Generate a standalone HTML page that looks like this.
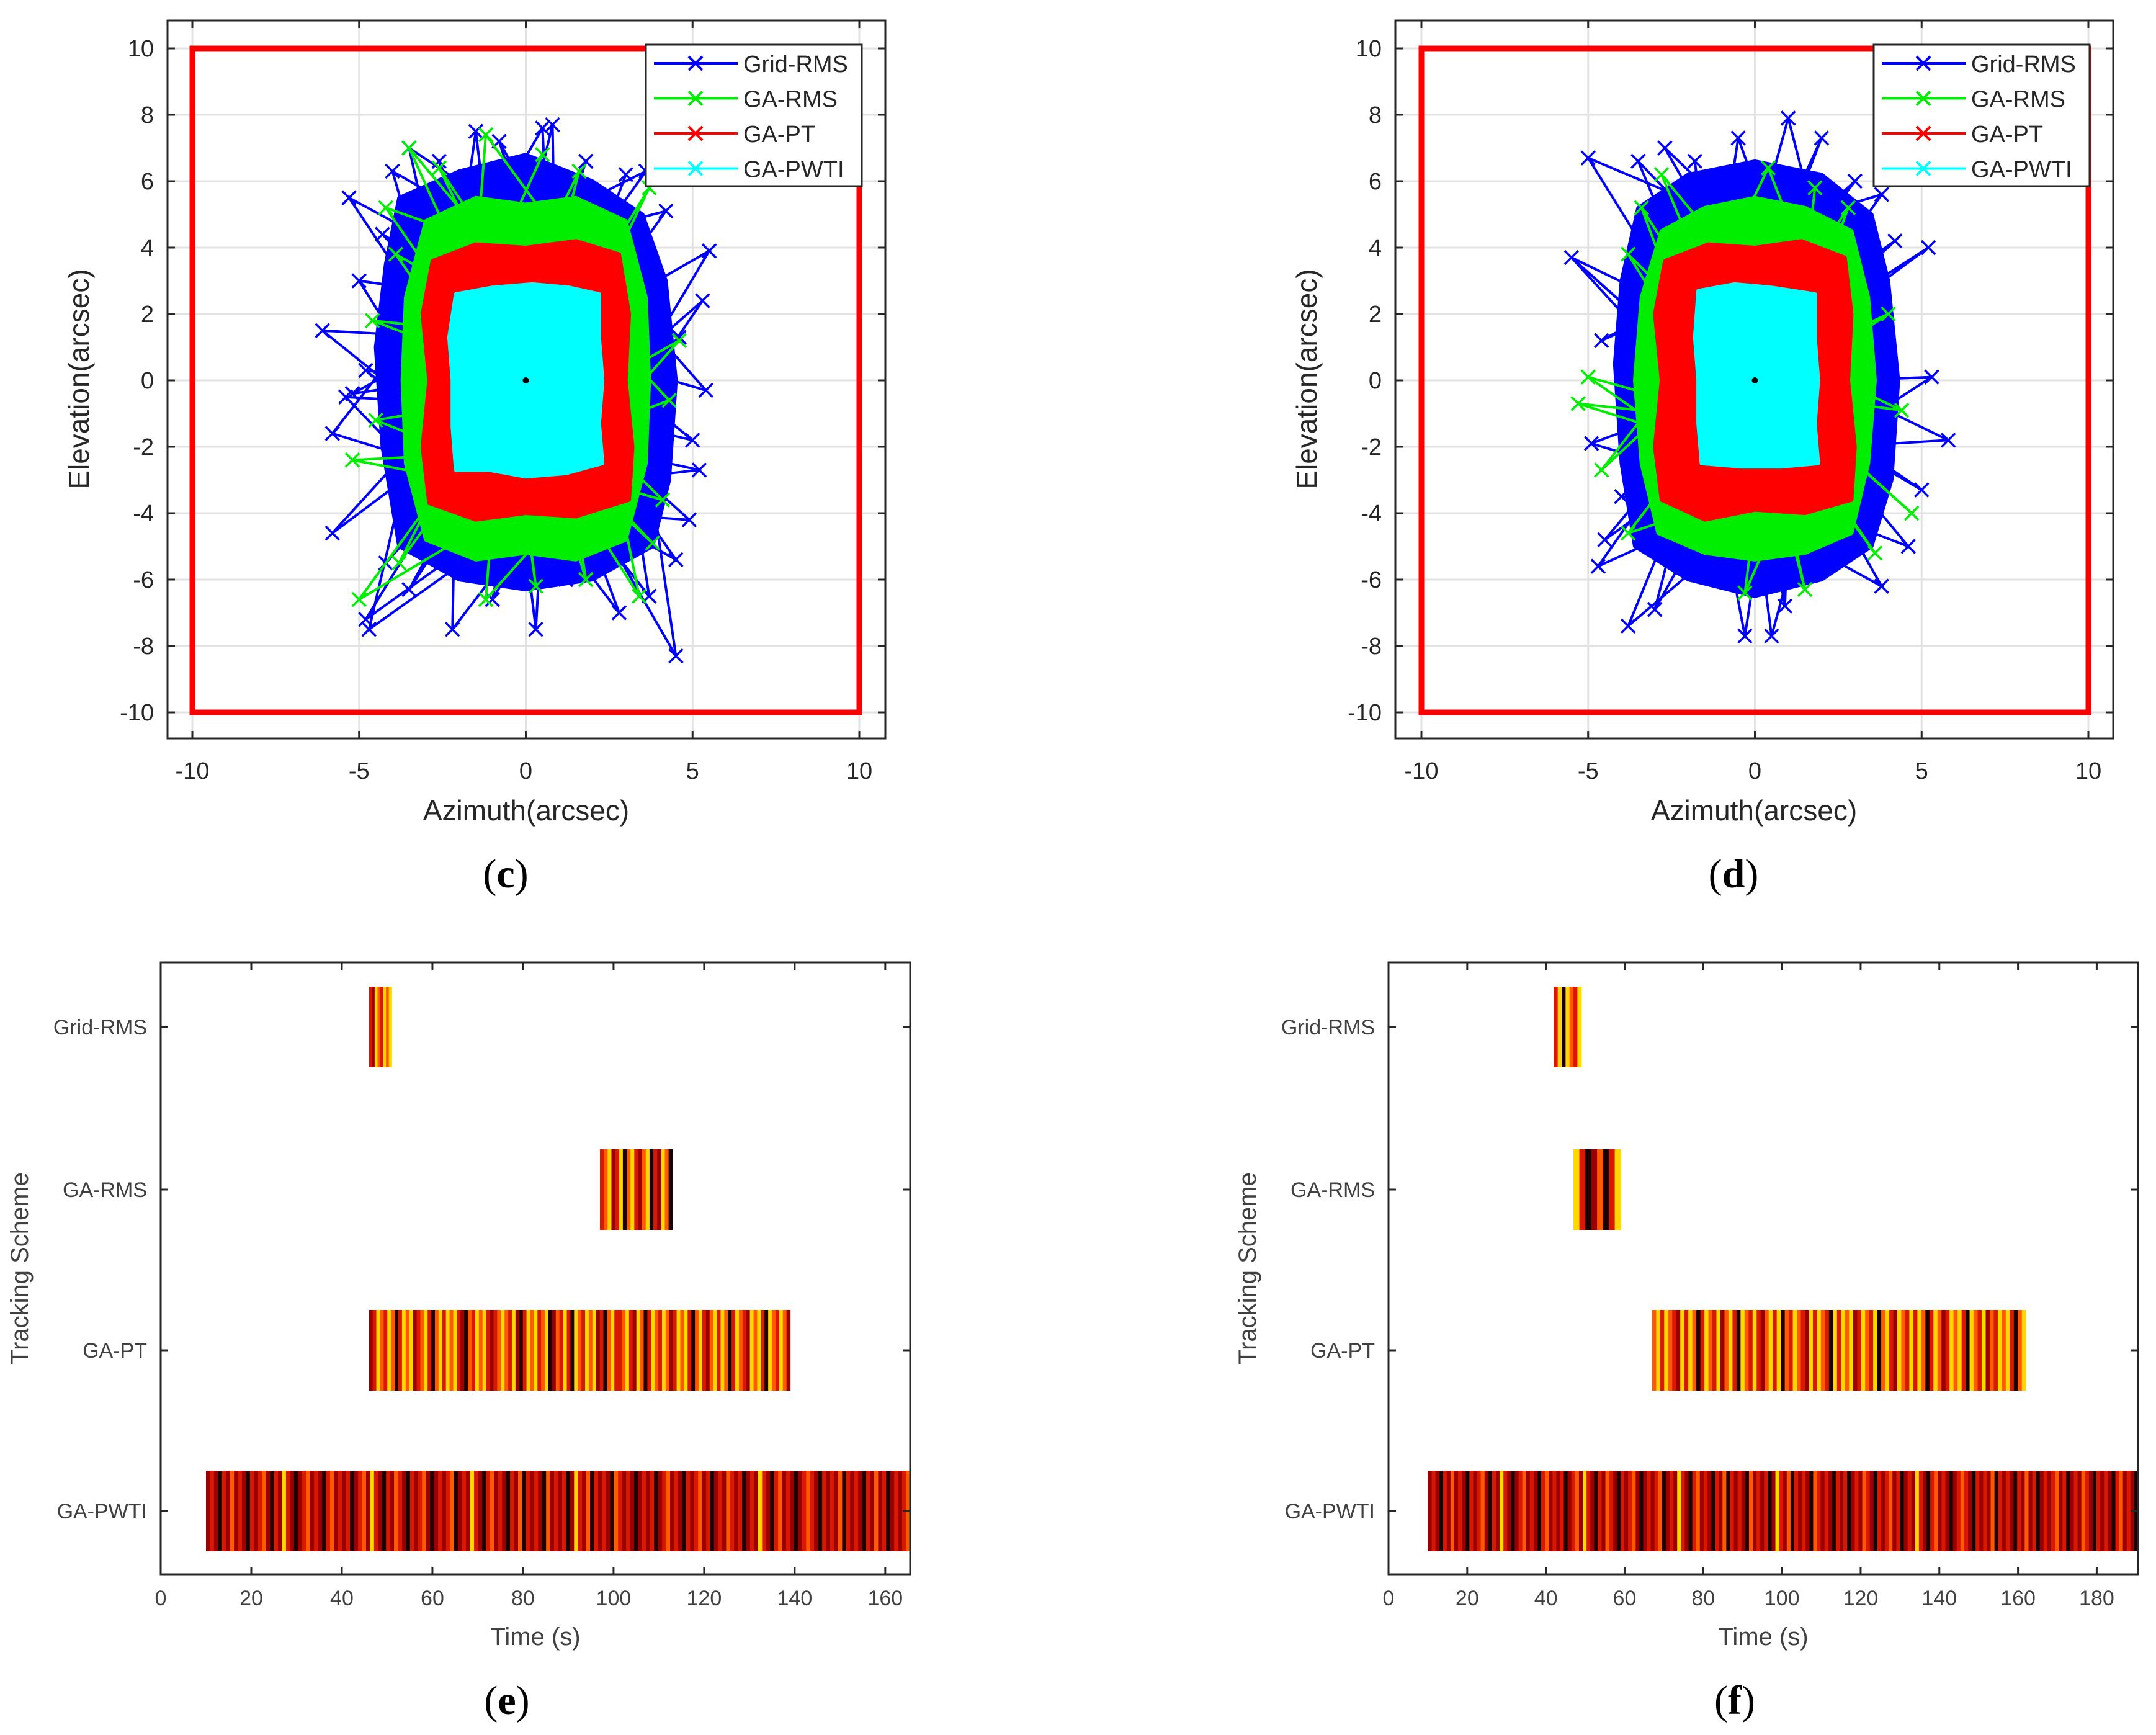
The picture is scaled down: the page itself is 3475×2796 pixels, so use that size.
<!DOCTYPE html>
<html><head><meta charset="utf-8"><style>
html,body{margin:0;padding:0;background:#fff;}
svg{display:block;font-family:"Liberation Sans",Arial,sans-serif;}
</style></head>
<body>
<svg id="root" width="3475" height="2796" viewBox="0 0 3475 2796" xmlns="http://www.w3.org/2000/svg">
<rect x="0" y="0" width="3475" height="2796" fill="#fff"/>
</svg>
<script>
// ---------- data: scatter panels ----------
const xTicks=[-10,-5,0,5,10];
const yTicks=[-10,-8,-6,-4,-2,0,2,4,6,8,10];
const seriesNames=["Grid-RMS","GA-RMS","GA-PT","GA-PWTI"];
const cBlue=[[-1,5],[0.5,7.6],[1,-3],[-4.8,-7.2],[2,4],[-5.8,-4.6],[3,2],[4.5,-8.3],[-2,3],[-2.2,-7.5],[2,-2],[5.5,3.9],[-3,-1],[-6.1,1.5],[3,1],[-5.3,5.5],[1,-4],[0.8,7.7],[-1.5,-2],[-3.5,7],[2.5,3],[5.4,-0.3],[-2.5,2],[-4.7,-7.5],[3,-2],[3.7,-6.5],[-3,2],[-5.8,-1.6],[2,-4],[4.5,-5.4],[-2,4],[-1.5,7.5],[0,-5],[0.3,-7.5],[1,5],[3.6,6.3],[-3,-3],[-5.4,-0.5],[3,-1],[5.3,2.4],[-2,-4],[-3.5,-6.3],[1.5,3],[-0.8,7.2],[2.5,-3],[5.2,-2.7],[-2.5,-1],[-5,3],[2,2],[4.2,5.1],[0,4],[-4,6.3],[-1,-4],[1.2,-6],[2,-4],[4.9,-4.2],[-3,3],[-4.3,4.4],[2.8,0],[5,-1.8],[-2.8,0],[-4.8,0.3],[0.5,-4],[-1,-6.6],[1,4],[1.8,6.6],[-2,-3],[-4.2,-5.5],[2.5,2],[4.6,1.3],[-1.5,3.5],[-2.6,6.6],[1.5,-3.5],[2.8,-7],[-2.5,0],[-5.2,-0.4],[2,3.5],[3,6.2]];
const cGreen=[[-1,4],[-3.5,7],[1,-3],[-5,-6.6],[2,3],[-1.2,7.4],[-2,-3],[-5.2,-2.4],[2.5,-2],[3.4,-6.5],[-2,2],[-4.2,5.2],[2,3],[3.7,5.8],[-1,-4],[-1.2,-6.6],[2,-3],[3.8,-4.9],[-2.5,1],[-4.6,1.8],[2.8,1],[4.3,-0.6],[-2,-3],[-3.8,-5.5],[1,4],[1.6,6.3],[-2.5,-2],[-4.5,-1.2],[2.5,0],[4.6,1.2],[0,-4],[0.3,-6.2],[-1,4],[-2.6,6.4],[2,-3],[4.1,-3.6],[-2.5,3],[-3.9,3.8],[1.5,-4],[1.8,-6],[-1,3.5],[0.5,6.8]];
const cBlueEnv=[[-3.8,5.5],[-2,6.3],[0,6.8],[2,6],[3.5,5],[4.2,3],[4.5,0],[4.3,-3],[3.8,-5],[2,-6],[0,-6.3],[-2,-6],[-3.8,-5],[-4.3,-2],[-4.5,1],[-4.2,3.5]];
const cGreenEnv=[[-3,4.8],[-1.5,5.5],[0,5.3],[1.5,5.5],[3,4.8],[3.6,2.5],[3.7,0],[3.6,-2.5],[3,-4.8],[1.5,-5.4],[0,-5.2],[-1.5,-5.4],[-3,-4.8],[-3.6,-2.5],[-3.7,0],[-3.6,2.5]];
const cRed=[[-2.8,3.6],[-1.5,4.1],[0,4],[1.5,4.2],[2.8,3.8],[3.1,2],[3,0],[3.2,-2],[3.1,-3.6],[1.5,-4.1],[0,-4],[-1.5,-4.2],[-2.9,-3.7],[-3.1,-2],[-2.9,0],[-3.1,2]];
const cCyan=[[-2.1,2.6],[-1,2.8],[0.2,2.9],[1.3,2.8],[2.2,2.6],[2.2,1.3],[2.3,0],[2.2,-1.3],[2.3,-2.5],[1.2,-2.8],[0,-2.9],[-1.1,-2.7],[-2.1,-2.7],[-2.2,-1.4],[-2.2,0],[-2.3,1.3]];
const dBlue=[[-1,5],[-5,6.7],[1,-3],[-4.7,-5.6],[2,4],[1,7.9],[-2,-3],[-3.8,-7.4],[2.5,-2],[5.8,-1.8],[-2,2],[-5.5,3.7],[1.5,-4],[0.5,-7.7],[-1,4],[-2.7,7],[2.5,2],[5.2,4],[-2.5,-1],[-4.9,-1.9],[2,-4],[4.6,-5],[-2,3],[-3.5,6.6],[2.8,0],[5.3,0.1],[-1,-4],[-0.3,-7.7],[1.5,4],[3,6],[-2.5,1],[-5.5,3.7],[2,-3],[3.8,-6.2],[-2,-3],[-3,-6.9],[2.5,3],[4.2,4.2],[-2.5,-2],[-4,-3.5],[1,-4],[0.9,-6.8],[-1,4],[-0.5,7.3],[2.8,-2],[5,-3.3],[-2.8,2],[-4.6,1.2],[0.5,4],[2,7.3],[-2,-3],[-4.5,-4.8],[2,3],[3.8,5.6],[-1.5,4],[-1.8,6.6]];
const dGreen=[[-1,4],[-2.8,6.2],[1,-3],[-3.8,-4.6],[2,3],[2.8,5.2],[-2,-2],[-5,0.1],[2.5,-2],[4.7,-4],[-2,2],[-3.8,3.8],[1,-4],[1.5,-6.3],[-1,3.5],[0.4,6.4],[2.5,1],[4,2],[-2.5,-1],[-5.3,-0.7],[2,-3],[3.6,-5.2],[-2,3],[-3.4,5.2],[0,-4],[-0.3,-6.4],[2.5,0],[4.4,-0.9],[-2.5,0],[-4.6,-2.7],[1.5,3],[1.8,5.8]];
const dBlueEnv=[[-3.5,5.2],[-2,6.2],[0,6.6],[2,6.2],[3.5,5],[4,3],[4.3,0],[4.1,-3],[3.5,-5],[2,-6],[0,-6.5],[-2,-6],[-3.6,-5],[-4,-2.5],[-4.2,0.5],[-4,3]];
const dGreenEnv=[[-2.8,4.5],[-1.5,5.2],[0,5.5],[1.5,5.2],[2.9,4.5],[3.4,2.5],[3.6,0],[3.4,-2.5],[2.9,-4.6],[1.5,-5.2],[0,-5.4],[-1.5,-5.2],[-2.9,-4.6],[-3.4,-2.5],[-3.6,0],[-3.4,2.5]];
const dRed=[[-2.7,3.6],[-1.4,4.1],[0,4],[1.4,4.2],[2.7,3.7],[2.9,2],[2.8,0],[3,-2],[2.9,-3.6],[1.5,-4],[0,-3.9],[-1.5,-4.2],[-2.8,-3.6],[-3,-2],[-2.8,0],[-3,2]];
const dCyan=[[-1.7,2.7],[-0.6,2.9],[0.5,2.8],[1.8,2.6],[1.8,1.3],[1.9,0],[1.8,-1.3],[1.9,-2.5],[0.8,-2.6],[-0.4,-2.6],[-1.6,-2.5],[-1.7,-1.3],[-1.7,0],[-1.8,1.3]];

// ---------- data: tracking scheme panels ----------
const rowLabels=["Grid-RMS","GA-RMS","GA-PT","GA-PWTI"];
const eTicks=[0,20,40,60,80,100,120,140,160];
const fTicks=[0,20,40,60,80,100,120,140,160,180];
const eStart=[46,97,46,10];
const eEnd=[51,113,139,165.5];
const fStart=[42,47,67,10];
const fEnd=[49,59,162,190.5];
// stripe colour codes: K black, D dark red, R red, O orange, Y yellow
const eStripes=["RDYORYOY","ROYDRYKOYRDOYKRDYOK","DRYORYOKRYOYDROYRKOYRYOYRDKORYOYRDROYORYDKRYOYROYKDORYRKYORYOYDRKOYRROYRDYOKRYORYODRYOYRKOYRDOYRYOKRYORDYOYRKYORYOD","DRDKRDODRDKRDRODKRDYRDKDRODRDKRODRDRKDRODYRDKRDORDKRDRODKDRDROKDRDYRDKRODRDKRDOKRDRDKODRDRKDYRDOKRDRDKORDRDKDRDRKDRODRDKRDRODRKDRDORDRKDRDYRDKRODRDKDRORDKRDRDOKRDRDKRDODRKDRDRO"];
const fStripes=["RYKYORY","YRKDOKRY","OYRYORDYRYOKRYORYDOYRKYORYRDOYRYKORYORDYRYORKYRYOYDRYORYKOYRDYORYRYOKRYODRYOYRKYORYDORYOYRKOY","DRDKRDODRDKRDRODKRDYRDKDRODRDKRODRDRKDRODYRDKRDORDKRDRODKDRDROKDRDYRDKRODRDKRDOKRDRDKODRDRKDYRDOKRDRDKORDRDKRDRKDRDORDKRDRODRKDRDYRDKRODRDKDRORDKRDRDOKRDRDKRDODRKDRDRODRKDRDORDKRDRDKRODRDK"];
const stripeColors={K:"#1a0000",D:"#9a0000",R:"#d81800",O:"#ff5a00",Y:"#ffd800"};
const seriesColors=["#0000ff","#00ee00","#ff0000","#00ffff"];

const NS="http://www.w3.org/2000/svg";
const root=document.getElementById("root");
function mk(tag,attrs,parent){const e=document.createElementNS(NS,tag);for(const k in attrs)e.setAttribute(k,attrs[k]);(parent||root).appendChild(e);return e;}

function scatterPanel(p){
  const g=mk("g",{});
  
  
  const X=v=>p.x0+(v+10)*53.75, Y=v=>613-v*53.5;
  const pts=a=>a.map(q=>X(q[0])+","+Y(q[1])).join(" ");
  mk("rect",{x:p.bx,y:33,width:1157,height:1157,fill:"#fff"},g);
  xTicks.forEach(t=>{const l=mk("line",{x1:X(t),x2:X(t),y1:33,y2:1190,stroke:"#e2e2e2","stroke-width":3},g);
    });
  yTicks.forEach(t=>{const l=mk("line",{x1:p.bx,x2:p.bx+1157,y1:Y(t),y2:Y(t),stroke:"#e2e2e2","stroke-width":3},g);
    });
  const env=(a,col,name)=>{const e=mk("polygon",{points:pts(a),fill:col,stroke:col,"stroke-width":6,"stroke-linejoin":"round"},g);
    };
  const line=(a,col,name)=>{
    const pl=mk("polyline",{points:pts(a),fill:"none",stroke:col,"stroke-width":4,"stroke-linejoin":"round"},g);
    
    let d="";a.forEach(q=>{const x=X(q[0]),y=Y(q[1]);d+=`M${x-11},${y-11}L${x+11},${y+11}M${x-11},${y+11}L${x+11},${y-11}`;});
    const m=mk("path",{d:d,stroke:col,"stroke-width":3.5,fill:"none"},g);
    
  };
  env(p.blueEnv,seriesColors[0],"grid-rms-dense-region");
  line(p.blue,seriesColors[0],"grid-rms-trace");
  env(p.greenEnv,seriesColors[1],"ga-rms-dense-region");
  line(p.green,seriesColors[1],"ga-rms-trace");
  env(p.red,"#ff0000","ga-pt-trace");
  env(p.cyan,"#00ffff","ga-pwti-trace");
  const dot=mk("circle",{cx:X(0),cy:Y(0),r:5,fill:"#000"},g);
  
  const fov=mk("rect",{x:X(-10),y:Y(10),width:X(10)-X(-10),height:Y(-10)-Y(10),fill:"none",stroke:"#ff0000","stroke-width":9},g);
  
  const box=mk("rect",{x:p.bx,y:33,width:1157,height:1157,fill:"none",stroke:"#262626","stroke-width":3},g);
  
  xTicks.forEach(t=>{mk("line",{x1:X(t),x2:X(t),y1:1190,y2:1178,stroke:"#262626","stroke-width":3},g);mk("line",{x1:X(t),x2:X(t),y1:33,y2:45,stroke:"#262626","stroke-width":3},g);
    const tx=mk("text",{x:X(t),y:1255,"text-anchor":"middle","font-size":38,fill:"#262626"},g);tx.textContent=t;
    });
  yTicks.forEach(t=>{mk("line",{x1:p.bx,x2:p.bx+12,y1:Y(t),y2:Y(t),stroke:"#262626","stroke-width":3},g);mk("line",{x1:p.bx+1157,x2:p.bx+1145,y1:Y(t),y2:Y(t),stroke:"#262626","stroke-width":3},g);
    const tx=mk("text",{x:p.bx-22,y:Y(t)+13,"text-anchor":"end","font-size":38,fill:"#262626"},g);tx.textContent=t;
    });
  const xl=mk("text",{x:p.bx+578,y:1322,"text-anchor":"middle","font-size":46,fill:"#262626"},g);xl.textContent="Azimuth(arcsec)";
  
  const yl=mk("text",{x:0,y:0,"text-anchor":"middle","font-size":46,fill:"#262626",transform:`translate(${p.bx-127},611) rotate(-90)`},g);yl.textContent="Elevation(arcsec)";
  
  const lg=mk("g",{},g);
  const lx=p.bx+771;
  mk("rect",{x:lx,y:72,width:348,height:228,fill:"#fff",stroke:"#262626","stroke-width":3},lg);
  seriesNames.forEach((n,i)=>{const y=102+i*56.5;
    const e=mk("g",{},lg);
    mk("line",{x1:lx+13,x2:lx+148,y1:y,y2:y,stroke:seriesColors[i],"stroke-width":4},e);
    mk("path",{d:`M${lx+69},${y-11}L${lx+91},${y+11}M${lx+69},${y+11}L${lx+91},${y-11}`,stroke:seriesColors[i],"stroke-width":4},e);
    const t=mk("text",{x:lx+157,y:y+14,"font-size":38,fill:"#262626"},e);t.textContent=n;});
  const cap=mk("text",{x:p.bx+545,y:1430,"text-anchor":"middle","font-size":66,fill:"#000","font-family":"Liberation Serif,serif"},g);
  cap.innerHTML=`(<tspan font-weight="bold">${p.cap}</tspan>)`;
  
}
scatterPanel({name:"panel-c-scatter",bx:270,x0:310,cap:"c",blue:cBlue,green:cGreen,blueEnv:cBlueEnv,greenEnv:cGreenEnv,red:cRed,cyan:cCyan});
scatterPanel({name:"panel-d-scatter",bx:2249,x0:2291,cap:"d",blue:dBlue,green:dGreen,blueEnv:dBlueEnv,greenEnv:dGreenEnv,red:dRed,cyan:dCyan});

function schemePanel(p){
  const g=mk("g",{});
  
  
  const top=1551,bot=2537,w=1208;
  const X=v=>p.bx+v*w/p.xmax;
  const rows=[1655,1917,2176,2435];
  rows.forEach((ry,i)=>{
    const s=p.stripes[i],x0=X(p.start[i]),x1=X(p.end[i]),sw=(x1-x0)/s.length;
    const bar=mk("g",{},g);
    for(let k=0;k<s.length;k++){mk("rect",{x:x0+k*sw,y:ry-65,width:sw+0.6,height:130,fill:stripeColors[s[k]]},bar);}
    mk("line",{x1:p.bx,x2:p.bx+12,y1:ry,y2:ry,stroke:"#262626","stroke-width":3},g);
    mk("line",{x1:p.bx+w,x2:p.bx+w-12,y1:ry,y2:ry,stroke:"#262626","stroke-width":3},g);
    const t=mk("text",{x:p.bx-22,y:ry+12,"text-anchor":"end","font-size":34,fill:"#404040"},g);t.textContent=rowLabels[i];
    
  });
  const box=mk("rect",{x:p.bx,y:top,width:w,height:bot-top,fill:"none",stroke:"#262626","stroke-width":3},g);
  
  p.ticks.forEach(t=>{mk("line",{x1:X(t),x2:X(t),y1:bot,y2:bot-12,stroke:"#262626","stroke-width":3},g);mk("line",{x1:X(t),x2:X(t),y1:top,y2:top+12,stroke:"#262626","stroke-width":3},g);
    const tx=mk("text",{x:X(t),y:bot+50,"text-anchor":"middle","font-size":34,fill:"#404040"},g);tx.textContent=t;
    });
  const xl=mk("text",{x:p.bx+604,y:2651,"text-anchor":"middle","font-size":40,fill:"#404040"},g);xl.textContent="Time (s)";
  
  const yl=mk("text",{x:0,y:0,"text-anchor":"middle","font-size":40,fill:"#404040",transform:`translate(${p.bx-214},2044) rotate(-90)`},g);yl.textContent="Tracking Scheme";
  
  const cap=mk("text",{x:p.bx+558,y:2762,"text-anchor":"middle","font-size":66,fill:"#000","font-family":"Liberation Serif,serif"},g);
  cap.innerHTML=`(<tspan font-weight="bold">${p.cap}</tspan>)`;
  
}
schemePanel({name:"panel-e-scheme",bx:259,xmax:165.5,ticks:eTicks,start:eStart,end:eEnd,stripes:eStripes,cap:"e"});
schemePanel({name:"panel-f-scheme",bx:2238,xmax:190.5,ticks:fTicks,start:fStart,end:fEnd,stripes:fStripes,cap:"f"});
</script>
</body></html>
